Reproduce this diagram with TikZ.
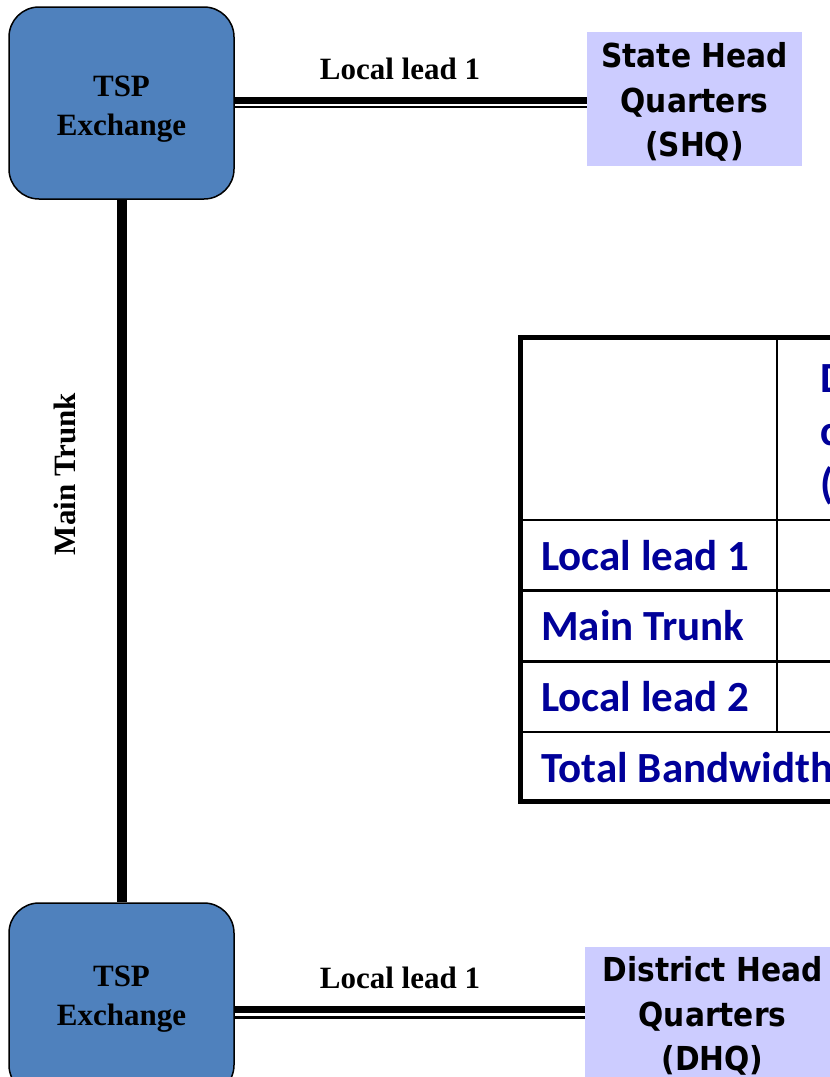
\documentclass[tikz,border=0pt]{standalone}
\usepackage{xcolor}
\usepackage{fontspec}
\setmainfont{Liberation Serif}
\newfontfamily\hqfont[FakeStretch=0.9]{DejaVu Sans}
\newfontfamily\tabfont{Carlito}
\usepackage{tikz}
\usetikzlibrary{positioning,calc}

\definecolor{tspblue}{HTML}{4F81BD}
\definecolor{hqlilac}{HTML}{CCCCFF}
\definecolor{tabblue}{HTML}{000099}

\begin{document}
\begin{tikzpicture}[x=1pt, y=-1pt,
  exchange/.style={draw, line width=1.5pt, fill=tspblue, rounded corners=30pt, minimum width=225pt, minimum height=192pt, align=center, font=\fontsize{31}{39}\selectfont\bfseries},
  hq/.style={fill=hqlilac, minimum height=134pt, align=center, inner sep=0pt, font=\hqfont\bfseries\fontsize{33}{44.5}\selectfont},
  lead/.style={anchor=base, font=\fontsize{31}{39}\selectfont\bfseries},
  thickwire/.style={line width=7pt},
  thinwire/.style={line width=2.2pt},
  cell/.style={anchor=west, inner sep=0pt, text=tabblue, font=\tabfont\bfseries\fontsize{43}{53}\selectfont}]

\useasboundingbox (0,0) rectangle (830,1077);
\clip (0,0) rectangle (830,1077);

% exchanges and head quarters
\node (tsp-top) [exchange] at (121.5,103) {\rule{0pt}{32pt}TSP\\Exchange};
\node (tsp-bot) [exchange] at (121.5,999) {TSP\\Exchange};

\node (shq) [hq, minimum width=215pt] at (694.5,99) {\rule{0pt}{31pt}State Head\\Quarters\\(SHQ)};
\node (dhq) [hq, minimum width=255pt, minimum height=132pt] at (712.5,1013) {\rule{0pt}{31pt}District Head\\Quarters\\(DHQ)};

% local leads (double line)
\draw [thickwire] ([yshift=2.5]tsp-top.east) -- ([yshift=2.5]tsp-top.east -| shq.west);
\draw [thinwire] ([yshift=-4.2]tsp-top.east) -- ([yshift=-4.2]tsp-top.east -| shq.west);
\draw [thickwire] ([yshift=-10.5]tsp-bot.east) -- ([yshift=-10.5]tsp-bot.east -| dhq.west);
\draw [thinwire] ([yshift=-18.5]tsp-bot.east) -- ([yshift=-18.5]tsp-bot.east -| dhq.west);

\node (lead-shq) [lead] at (400,79) {Local lead 1};
\node (lead-dhq) [lead] at (400,988) {Local lead 1};

% main trunk
\draw [line width=10pt] (tsp-top.south) -- (tsp-bot.north);
\node (trunk-label) [rotate=90, font=\fontsize{31}{39}\selectfont\bfseries] at (65,474) {Main Trunk};

% bandwidth table
\draw [line width=4.5pt] (520.5,337.5) rectangle (860,801.5);
\foreach \y in {520,590.5,661.5,732}
  \draw [line width=2.7pt] (520,\y) -- (860,\y);
\draw [line width=2.5pt] (777,337) -- (777,732);

\foreach \l [count=\i] in {Local lead 1,Main Trunk,Local lead 2,Total Bandwidth}
  \node (row-\i) [cell] at (541,484.5+\i*70.7) {\l};

\node (col-head) [cell, anchor=north west, align=left] at (820,362) {Distance\\covered\\(in Km)};

\end{tikzpicture}
\end{document}
